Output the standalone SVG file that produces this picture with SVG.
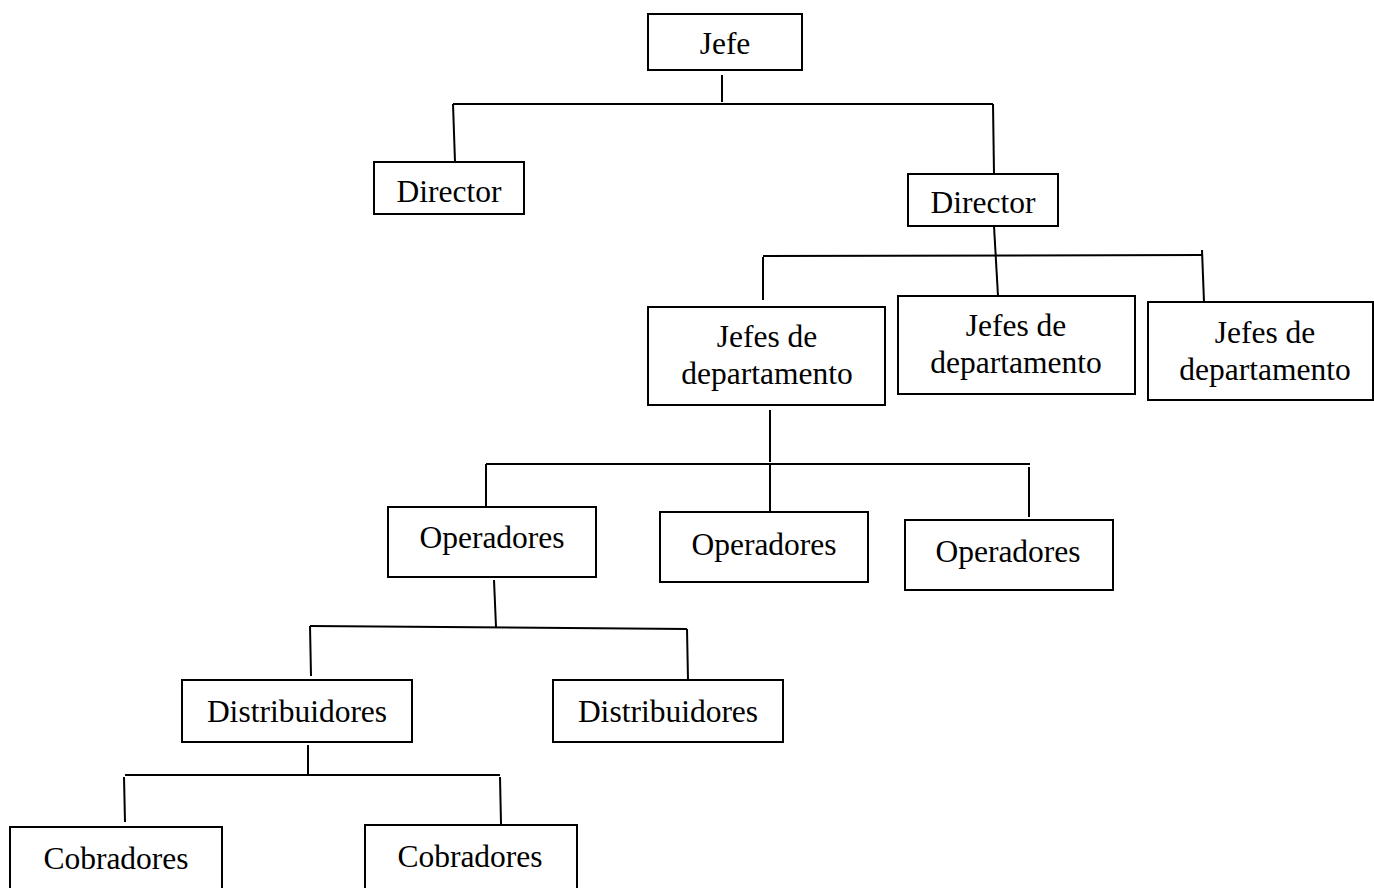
<svg xmlns="http://www.w3.org/2000/svg" width="1374" height="888" viewBox="0 0 1374 888">
<style>
.box{fill:#fff;stroke:#000;stroke-width:2}
.t{font-family:"Liberation Serif","Times New Roman",serif;font-size:31.5px;fill:#000;text-anchor:middle}
.c line{stroke:#000;stroke-width:2}
</style>
<rect width="1374" height="888" fill="#fff"/>
<g class="c" id="connectors">
<line x1="722" y1="75" x2="722" y2="102"/>
<line x1="453" y1="104" x2="993" y2="104"/>
<line x1="453" y1="104" x2="455" y2="162"/>
<line x1="993" y1="104" x2="994" y2="174"/>
<line x1="994" y1="226" x2="998" y2="296"/>
<line x1="763" y1="256" x2="1202" y2="255"/>
<line x1="763" y1="257" x2="763" y2="300"/>
<line x1="1202" y1="250" x2="1204" y2="302"/>
<line x1="770" y1="410" x2="770" y2="462"/>
<line x1="486" y1="464" x2="1030" y2="464"/>
<line x1="486" y1="464" x2="486" y2="507"/>
<line x1="770" y1="464" x2="770" y2="512"/>
<line x1="1029" y1="467" x2="1029" y2="517"/>
<line x1="494" y1="580" x2="496" y2="627"/>
<line x1="310" y1="626" x2="687" y2="629"/>
<line x1="310" y1="626" x2="311" y2="676"/>
<line x1="687" y1="629" x2="688" y2="680"/>
<line x1="308" y1="745" x2="308" y2="775"/>
<line x1="125" y1="775" x2="500" y2="775"/>
<line x1="124" y1="777" x2="125" y2="822"/>
<line x1="500" y1="777" x2="501" y2="824"/>
</g>
<g id="jefe"><rect class="box" x="648" y="14" width="154" height="56"/><text class="t" x="725" y="54">Jefe</text></g>
<g id="director1"><rect class="box" x="374" y="162" width="150" height="52"/><text class="t" x="449" y="202">Director</text></g>
<g id="director2"><rect class="box" x="908" y="174" width="150" height="52"/><text class="t" x="983" y="213">Director</text></g>
<g id="jefes1"><rect class="box" x="648" y="307" width="237" height="98"/><text class="t" x="767" y="347">Jefes de</text><text class="t" x="767" y="384">departamento</text></g>
<g id="jefes2"><rect class="box" x="898" y="296" width="237" height="98"/><text class="t" x="1016" y="336">Jefes de</text><text class="t" x="1016" y="373">departamento</text></g>
<g id="jefes3"><rect class="box" x="1148" y="302" width="225" height="98"/><text class="t" x="1265" y="343">Jefes de</text><text class="t" x="1265" y="380">departamento</text></g>
<g id="operadores1"><rect class="box" x="388" y="507" width="208" height="70"/><text class="t" x="492" y="548">Operadores</text></g>
<g id="operadores2"><rect class="box" x="660" y="512" width="208" height="70"/><text class="t" x="764" y="555">Operadores</text></g>
<g id="operadores3"><rect class="box" x="905" y="520" width="208" height="70"/><text class="t" x="1008" y="562">Operadores</text></g>
<g id="distribuidores1"><rect class="box" x="182" y="680" width="230" height="62"/><text class="t" x="297" y="722">Distribuidores</text></g>
<g id="distribuidores2"><rect class="box" x="553" y="680" width="230" height="62"/><text class="t" x="668" y="722">Distribuidores</text></g>
<g id="cobradores1"><rect class="box" x="10" y="827" width="212" height="70"/><text class="t" x="116" y="869">Cobradores</text></g>
<g id="cobradores2"><rect class="box" x="365" y="825" width="212" height="70"/><text class="t" x="470" y="867">Cobradores</text></g>
</svg>
